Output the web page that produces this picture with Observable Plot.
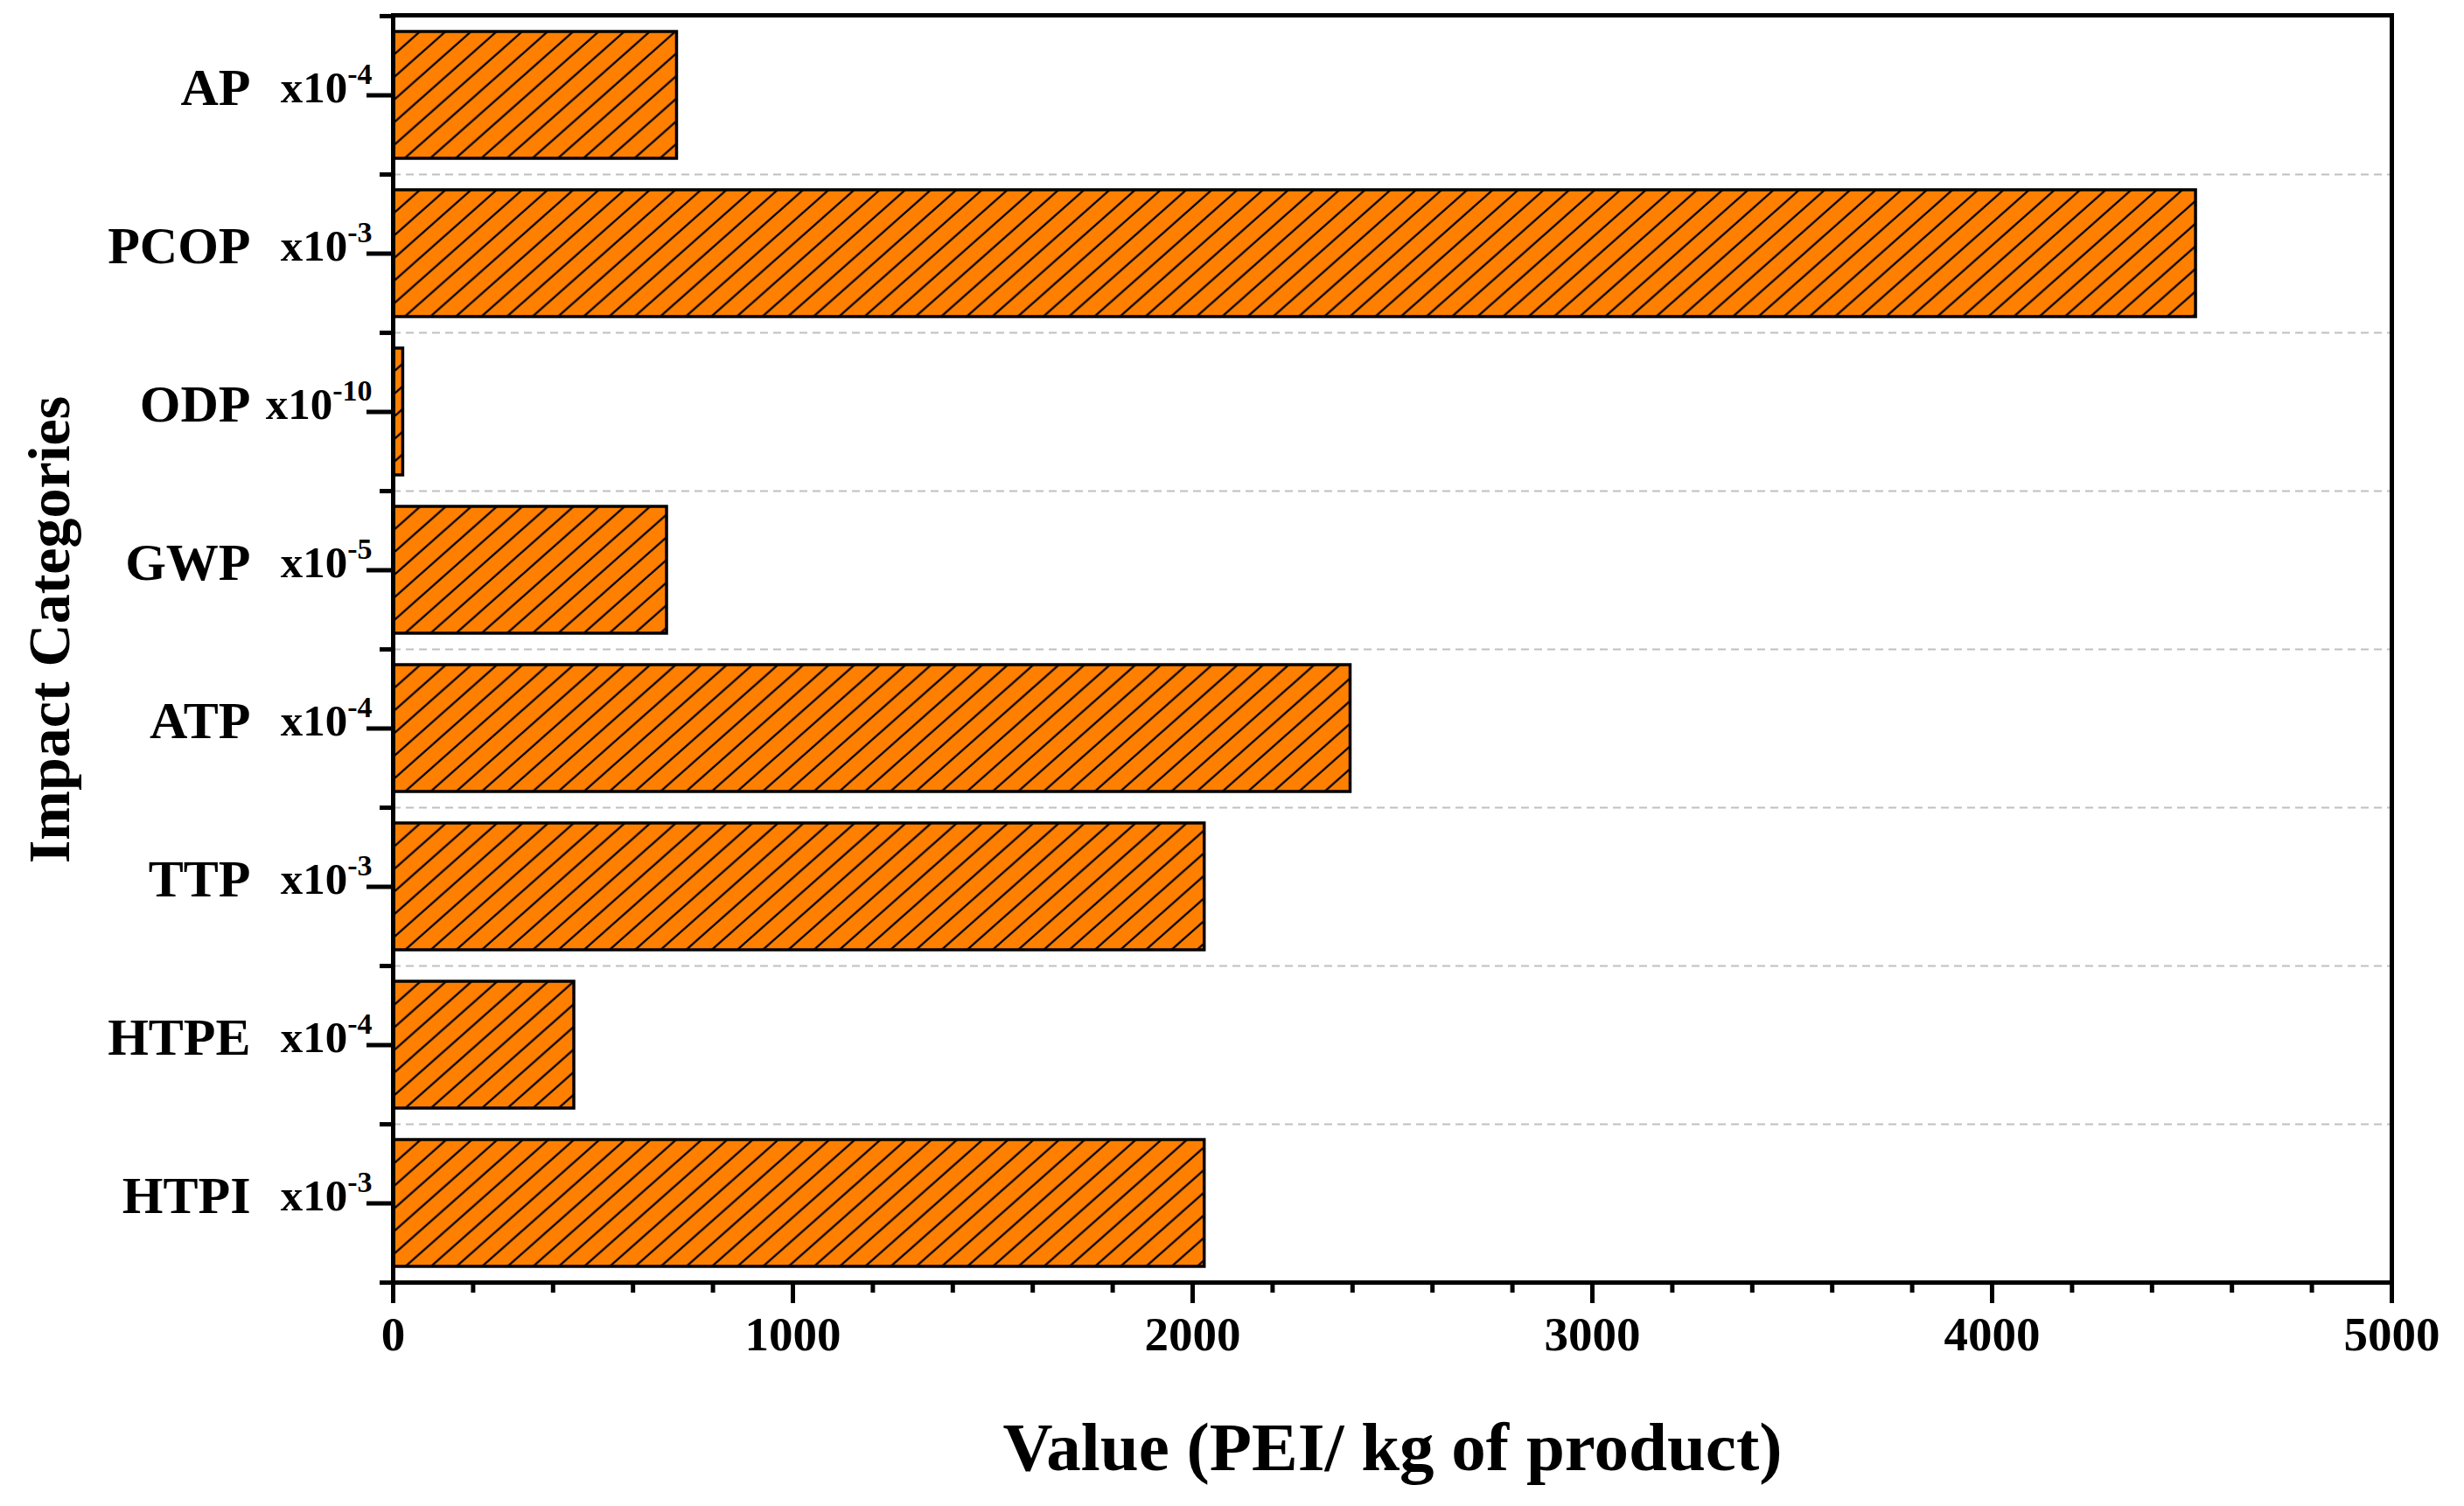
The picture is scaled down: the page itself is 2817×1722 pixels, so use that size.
<!DOCTYPE html>
<html>
<head>
<meta charset="utf-8">
<script src="https://cdn.jsdelivr.net/npm/d3@7"></script>
<script src="https://cdn.jsdelivr.net/npm/@observablehq/plot@0.6"></script>
<style>
  html, body { margin: 0; padding: 0; background: #fff; overflow: hidden; }
  #chart svg { display: block; }
</style>
</head>
<body>
<div id="chart"></div>
<script>
// ---- data ----
const categories = ["AP", "PCOP", "ODP", "GWP", "ATP", "TTP", "HTPE", "HTPI"];
const values = [710, 4510, 25, 685, 2395, 2030, 453, 2030];
const exponents = ["-4", "-3", "-10", "-5", "-4", "-3", "-4", "-3"];
const xTicks = [0, 1000, 2000, 3000, 4000, 5000];
const xTitle = "Value (PEI/ kg of product)";
const yTitle = "Impact Categories";

const rows = categories.map((c, i) => ({category: c, value: values[i]}));

// ---- layout ----
const W = 2817, H = 1722;
const mLeft = 449, mRight = 83, mTop = 17, mBottom = 256;
const step = (H - mTop - mBottom) / categories.length;
const FONT = "'Palatino Linotype', 'Book Antiqua', Palatino, 'Liberation Serif', serif";

const plot = Plot.plot({
  width: W,
  height: H,
  marginLeft: mLeft,
  marginRight: mRight,
  marginTop: mTop,
  marginBottom: mBottom,
  style: {background: "white", fontFamily: FONT, fontWeight: "bold", color: "black", overflow: "visible"},
  x: {domain: [0, 5000]},
  y: {domain: categories, paddingInner: 0.2, paddingOuter: 0.1},
  marks: [
    // dashed separators between categories
    Plot.ruleY(categories.slice(0, -1), {y: d => d, dy: step / 2, stroke: "#c0c0c0", strokeWidth: 2, strokeDasharray: "9,6"}),
    // bars
    Plot.barX(rows, {x: "value", y: "category", fill: "url(#hatch)", stroke: "black", strokeWidth: 3.5}),
    // frame
    Plot.frame({stroke: "black", strokeWidth: 5}),
    // x axis: major & minor ticks
    Plot.axisX({ticks: xTicks, tickSize: 24, strokeWidth: 5, tickPadding: 14, tickFormat: d => String(d),
                fontSize: 55, fontWeight: "bold", label: null}),
    Plot.axisX({ticks: 25, tickSize: 12, strokeWidth: 5, tickFormat: () => "", label: null}),
    // y axis: major ticks at centres, minor ticks at boundaries
    Plot.axisY({tickSize: 30, strokeWidth: 5, tickFormat: () => "", label: null}),
    Plot.axisY({tickSize: 15, strokeWidth: 5, tickFormat: () => "", label: null, dy: step / 2}),
    Plot.axisY({ticks: categories.slice(0, 1), tickSize: 15, strokeWidth: 5, tickFormat: () => "", label: null, dy: -step / 2}),
    // category names
    Plot.text(categories, {y: d => d, text: d => d, frameAnchor: "left", dx: -163, dy: 11,
      textAnchor: "end", lineAnchor: "bottom", fontSize: 60, fontWeight: "bold", fill: "black"}),
    // scale factors (x10^n)
    Plot.text(categories, {y: d => d, text: (d, i) => "x10^" + exponents[i], frameAnchor: "left", dx: -24, dy: 8,
      textAnchor: "end", lineAnchor: "bottom", fontSize: 51, fontWeight: "bold", fill: "black"}),
    // axis titles
    Plot.text([yTitle], {text: d => d, frameAnchor: "left", rotate: -90, dx: -371, dy: -22,
      textAnchor: "middle", lineAnchor: "bottom", fontSize: 68, fontWeight: "bold", fill: "black"}),
    Plot.text([xTitle], {text: d => d, frameAnchor: "bottom", dy: 214,
      textAnchor: "middle", lineAnchor: "bottom", fontSize: 79, fontWeight: "bold", fill: "black"})
  ]
});

// hatch pattern
const ns = "http://www.w3.org/2000/svg";
const x0 = plot.scale("x").apply(0);
const y0 = plot.scale("y").apply(categories[0]);
const pw = 29.2, ph = step / 7;
const defs = document.createElementNS(ns, "defs");
const pat = document.createElementNS(ns, "pattern");
pat.setAttribute("id", "hatch");
pat.setAttribute("patternUnits", "userSpaceOnUse");
pat.setAttribute("x", x0 + 2);
pat.setAttribute("y", y0);
pat.setAttribute("width", pw);
pat.setAttribute("height", ph);
const bg = document.createElementNS(ns, "rect");
bg.setAttribute("width", pw); bg.setAttribute("height", ph); bg.setAttribute("fill", "#FF8000");
const ln = document.createElementNS(ns, "path");
ln.setAttribute("d", `M0,${ph} L${pw},0 M${-pw},${ph} L${pw},${-ph} M0,${2 * ph} L${2 * pw},0`);
ln.setAttribute("stroke", "black"); ln.setAttribute("stroke-width", "2.3"); ln.setAttribute("fill", "none");
pat.appendChild(bg); pat.appendChild(ln); defs.appendChild(pat);
plot.insertBefore(defs, plot.firstChild);

// superscripts: split "x10^-n" into base + raised tspan
plot.querySelectorAll("text").forEach(t => {
  const s = t.textContent;
  if (!s.includes("^")) return;
  const [base, sup] = s.split("^");
  while (t.firstChild) t.removeChild(t.firstChild);
  t.appendChild(document.createTextNode(base));
  const ts = document.createElementNS(ns, "tspan");
  ts.setAttribute("dy", "-21");
  ts.setAttribute("font-size", "34");
  ts.textContent = sup;
  t.appendChild(ts);
});

document.getElementById("chart").appendChild(plot);
</script>
</body>
</html>
